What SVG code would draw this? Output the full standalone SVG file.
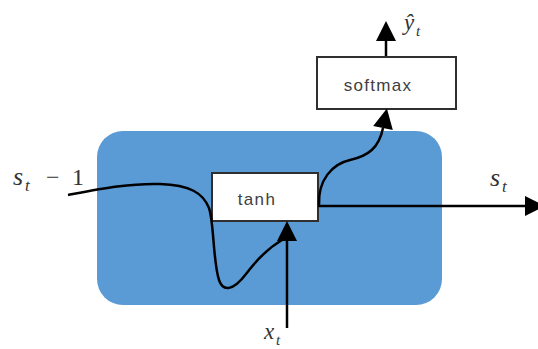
<svg xmlns="http://www.w3.org/2000/svg" width="538" height="349" viewBox="0 0 538 349">
<style>
.box{fill:#ffffff;stroke:#2f2f2f;stroke-width:2}
.lbl{font-family:"Liberation Sans",Arial,sans-serif;font-size:17px;fill:#404040;letter-spacing:1.3px}
.math{font-family:"Liberation Serif","Times New Roman",serif;fill:#333333}
.it{font-style:italic}
.wire{fill:none;stroke:#000000;stroke-width:2.5}
</style>
<defs>
<marker id="ah" markerUnits="userSpaceOnUse" markerWidth="20" markerHeight="20" refX="0" refY="10" orient="auto" overflow="visible">
<path d="M0,0 L20,10 L0,20 Z" fill="#000000"/>
</marker>
</defs>
<rect width="538" height="349" fill="#ffffff"/>
<g id="cell">
<rect x="97" y="131" width="345" height="174" rx="26" ry="26" fill="#5b9bd5"/>
</g>
<g id="tanh">
<rect class="box" x="212" y="173" width="106" height="48"/>
<text class="lbl" x="257" y="205" text-anchor="middle">tanh</text>
</g>
<g id="softmax">
<rect class="box" x="317" y="57" width="139" height="52"/>
<text class="lbl" x="378" y="91" text-anchor="middle">softmax</text>
</g>
<g id="connectors">
<path class="wire" d="M68,195 C100,189 130,183 160,184 C190,185 203,193 209,208 C214,222 213,262 219,280 C223,292 233,291 246,274 C258,258 270,247 282,240"/>
<path class="wire" d="M287,328 L287,241" marker-end="url(#ah)"/>
<path class="wire" d="M318,206 L525,206" marker-end="url(#ah)"/>
<path class="wire" d="M319,205 C318,180 332,164 350,160 C368,156 379,148 383,128" marker-end="url(#ah)"/>
<path class="wire" d="M386,56 L386,41" marker-end="url(#ah)"/>
</g>
<g id="labels">
<text class="math" y="185" font-size="26"><tspan class="it" x="13">s</tspan><tspan class="it" x="25" y="191" font-size="17">t</tspan><tspan x="46" y="185" font-size="24">−</tspan><tspan x="72" font-size="24">1</tspan></text>
<text class="math" y="186" font-size="26"><tspan class="it" x="490">s</tspan><tspan class="it" x="502" y="192" font-size="17">t</tspan></text>
<text class="math" y="30" font-size="23"><tspan class="it" x="404">ŷ</tspan><tspan class="it" x="416" y="36" font-size="15">t</tspan></text>
<text class="math" y="339" font-size="23"><tspan class="it" x="264">x</tspan><tspan class="it" x="276" y="345" font-size="15">t</tspan></text>
</g>
</svg>
